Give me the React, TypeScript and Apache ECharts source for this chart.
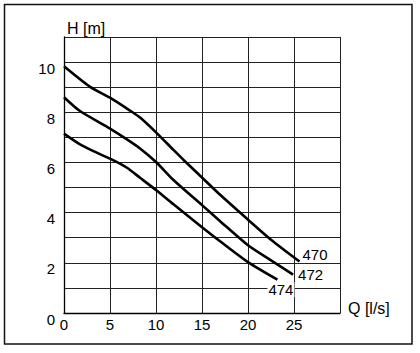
import React, { useEffect, useRef } from "react";
import * as echarts from "echarts";

const xTicks = [0, 5, 10, 15, 20, 25];
const yTicks = [0, 2, 4, 6, 8, 10];
const seriesNames = ["470", "472", "474"];
const curve470: [number, number][] = [
  [0, 9.83], [2.8, 9.02], [5, 8.58], [7.2, 8.06], [8.3, 7.78], [10, 7.2], [11.9, 6.5],
  [13, 6.1], [15, 5.4], [17, 4.7], [20, 3.72], [22.5, 2.92], [25.6, 2.05],
];
const curve472: [number, number][] = [
  [0, 8.6], [1.7, 8.06], [5, 7.35], [6.8, 6.93], [8.3, 6.55], [10, 6.02], [11.9, 5.3],
  [15, 4.3], [17, 3.65], [20, 2.7], [22.5, 2.1], [24.9, 1.53],
];
const curve474: [number, number][] = [
  [0, 7.15], [1.7, 6.73], [3.2, 6.45], [5, 6.15], [6.8, 5.8], [8.3, 5.38], [10, 4.9],
  [11.9, 4.33], [15, 3.42], [17, 2.85], [20, 2.03], [23.2, 1.33],
];

const FONT = "'Liberation Sans', Arial, sans-serif";

export default function App() {
  const ref = useRef<HTMLDivElement>(null);
  useEffect(() => {
    if (!ref.current) return;
    const chart = echarts.init(ref.current, undefined, { renderer: "svg" });
    const curves = [curve470, curve472, curve474];
    const labelOffsets: [number, number][] = [[3, -7], [5, 0], [-10, 10]];
    chart.setOption({
      animation: false,
      backgroundColor: "#fff",
      grid: { left: 64, top: 37, width: 276, height: 276, containLabel: false },
      xAxis: {
        type: "value",
        min: 0,
        max: 30,
        interval: 5,
        axisLine: { show: true, lineStyle: { color: "#000", width: 1.3 } },
        axisTick: { show: false },
        splitLine: { show: true, lineStyle: { color: "#222", width: 1 } },
        axisLabel: {
          margin: 4,
          color: "#000",
          fontSize: 15,
          fontFamily: FONT,
          formatter: (v: number) => (xTicks.includes(v) ? String(v) : ""),
        },
      },
      yAxis: {
        type: "value",
        min: 0,
        max: 11,
        interval: 1,
        axisLine: { show: true, lineStyle: { color: "#000", width: 1.3 } },
        axisTick: { show: false },
        splitLine: { show: true, lineStyle: { color: "#222", width: 1 } },
        axisLabel: {
          margin: 9,
          color: "#000",
          fontSize: 15,
          fontFamily: FONT,
          verticalAlign: "top",
          lineHeight: 12,
          formatter: (v: number) => (yTicks.includes(v) ? String(v) : ""),
        },
      },
      series: curves.map((d, i) => ({
        type: "line",
        name: seriesNames[i],
        data: d,
        smooth: 0.25,
        symbol: "none",
        lineStyle: { color: "#000", width: 2.6 },
        z: 3,
        endLabel: {
          show: true,
          formatter: seriesNames[i],
          distance: 0,
          offset: labelOffsets[i],
          color: "#000",
          fontSize: 15,
          fontFamily: FONT,
          backgroundColor: i === 2 ? "#fff" : "transparent",
          padding: i === 2 ? [0, 1] : 0,
        },
      })),
      graphic: [
        {
          type: "rect",
          shape: { x: 4.5, y: 4.5, width: 407.5, height: 339.5 },
          style: { fill: "none", stroke: "#111", lineWidth: 1.5 },
          silent: true,
        },
        {
          type: "text",
          x: 67,
          y: 28,
          style: { text: "H [m]", fontSize: 16, fontFamily: FONT, fill: "#000", verticalAlign: "middle", align: "left" },
        },
        {
          type: "text",
          x: 348,
          y: 308,
          style: { text: "Q [l/s]", fontSize: 16, fontFamily: FONT, fill: "#000", verticalAlign: "middle", align: "left" },
        },
      ],
    });
    return () => chart.dispose();
  }, []);
  return (
    <div
      ref={ref}
      style={{ position: "fixed", left: 0, top: 0, width: 420, height: 353, background: "#fff" }}
    />
  );
}
